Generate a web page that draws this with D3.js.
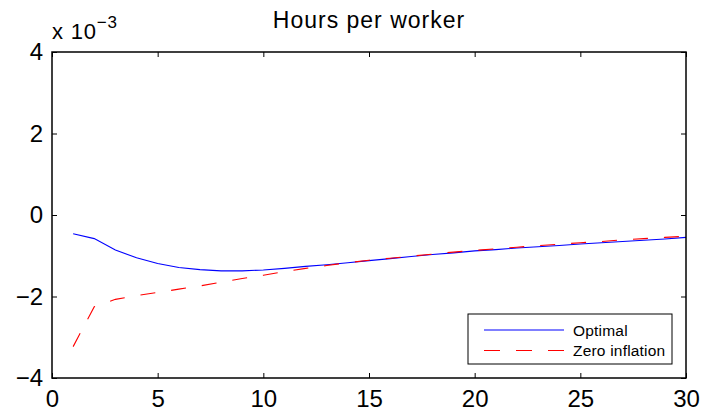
<!DOCTYPE html>
<html>
<head>
<meta charset="utf-8">
<script src="https://cdn.jsdelivr.net/npm/d3@7"></script>
<style>
  body { margin: 0; background: #fff; }
  svg { display: block; font-family: "Liberation Sans", Arial, sans-serif; }
</style>
</head>
<body>
<div id="chart"></div>
<script>
// data (units of 1e-3)
var periods = [1, 2, 3, 4, 5, 6, 7, 8, 9, 10, 11, 12, 13, 14, 15, 16, 17, 18, 19, 20,
    21, 22, 23, 24, 25, 26, 27, 28, 29, 30];
var optimal = [-0.46, -0.58, -0.86, -1.05, -1.19, -1.29, -1.34, -1.37, -1.37, -1.35,
    -1.31, -1.26, -1.22, -1.17, -1.12, -1.07, -1.02, -0.97, -0.93, -0.88,
    -0.85, -0.81, -0.78, -0.75, -0.71, -0.68, -0.65, -0.62, -0.59, -0.55];
var zeroInflation = [-3.23, -2.25, -2.07, -1.98, -1.90, -1.82, -1.74, -1.65, -1.56, -1.48,
    -1.39, -1.31, -1.24, -1.17, -1.11, -1.06, -1.01, -0.96, -0.91, -0.87,
    -0.83, -0.79, -0.75, -0.72, -0.68, -0.65, -0.61, -0.58, -0.55, -0.52];
var xTicks = [0, 5, 10, 15, 20, 25, 30];
var yTicks = [-4, -2, 0, 2, 4];
var seriesNames = ["Optimal", "Zero inflation"];

var svgWidth = 704;
var svgHeight = 416;
var plotLeft = 52, plotRight = 686, plotTop = 52, plotBottom = 378;
var tickLen = 5;

var svg = d3.select("#chart")
    .append("svg")
    .attr("width", svgWidth)
    .attr("height", svgHeight);

var x = d3.scaleLinear().domain([0, 30]).range([plotLeft, plotRight]);
var y = d3.scaleLinear().domain([-4, 4]).range([plotBottom, plotTop]);

// lines
var line = d3.line()
    .x(function (d, i) { return x(periods[i]); })
    .y(function (d) { return y(d); });

svg.append("path")
    .datum(optimal)
    .attr("fill", "none")
    .attr("stroke", "#0000ff")
    .attr("stroke-width", 1.1)
    .attr("d", line);

svg.append("path")
    .datum(zeroInflation)
    .attr("fill", "none")
    .attr("stroke", "#ff0000")
    .attr("stroke-width", 1.1)
    .attr("stroke-dasharray", "15,16")
    .attr("d", line);

// axes: ticks pointing inward on all four sides
svg.append("g")
    .attr("transform", "translate(0," + plotBottom + ")")
    .call(d3.axisBottom(x).tickValues(xTicks).tickSizeInner(-tickLen).tickSizeOuter(0).tickPadding(12))
    .call(function (g) { g.select(".domain").remove(); });

svg.append("g")
    .attr("transform", "translate(0," + plotTop + ")")
    .call(d3.axisTop(x).tickValues(xTicks).tickSizeInner(-tickLen).tickSizeOuter(0).tickFormat(""))
    .call(function (g) { g.select(".domain").remove(); });

svg.append("g")
    .attr("transform", "translate(" + plotLeft + ",0)")
    .call(d3.axisLeft(y).tickValues(yTicks).tickSizeInner(-tickLen).tickSizeOuter(0).tickPadding(9)
        .tickFormat(function (d) { return d < 0 ? "\u2212" + Math.abs(d) : d; }))
    .call(function (g) { g.select(".domain").remove(); });

svg.append("g")
    .attr("transform", "translate(" + plotRight + ",0)")
    .call(d3.axisRight(y).tickValues(yTicks).tickSizeInner(-tickLen).tickSizeOuter(0).tickFormat(""))
    .call(function (g) { g.select(".domain").remove(); });

svg.selectAll(".tick text")
    .attr("font-size", "24px")
    .attr("font-family", "Liberation Sans, Arial, sans-serif")
    .attr("fill", "#000");

svg.append("rect")
    .attr("x", plotLeft)
    .attr("y", plotTop)
    .attr("width", plotRight - plotLeft)
    .attr("height", plotBottom - plotTop)
    .attr("fill", "none")
    .attr("stroke", "#000")
    .attr("stroke-width", 1.5);

// exponent label
var expo = svg.append("text")
    .attr("x", 52)
    .attr("y", 39)
    .attr("font-size", "22px")
    .attr("letter-spacing", "0.8px");
expo.append("tspan").text("x 10");
expo.append("tspan").attr("dy", -11).attr("font-size", "17px").text("\u22123");

// title
svg.append("text")
    .attr("x", (plotLeft + plotRight) / 2)
    .attr("y", 28)
    .attr("text-anchor", "middle")
    .attr("font-size", "23px")
    .attr("letter-spacing", "1px")
    .text("Hours per worker");

// legend
var legend = svg.append("g");
legend.append("rect")
    .attr("x", 468)
    .attr("y", 314)
    .attr("width", 204)
    .attr("height", 50)
    .attr("fill", "#fff")
    .attr("stroke", "#000")
    .attr("stroke-width", 1);

var legendColors = ["#0000ff", "#ff0000"];
var legendDash = [null, "16,16"];
seriesNames.forEach(function (name, i) {
    var ly = 330 + i * 20.5;
    legend.append("line")
        .attr("x1", 484).attr("x2", 564)
        .attr("y1", ly).attr("y2", ly)
        .attr("stroke", legendColors[i])
        .attr("stroke-width", 1.1)
        .attr("stroke-dasharray", legendDash[i]);
    legend.append("text")
        .attr("x", 573)
        .attr("y", ly + 5.5)
        .attr("font-size", "15.5px")
        .attr("letter-spacing", "0.2px")
        .text(name);
});
</script>
</body>
</html>
